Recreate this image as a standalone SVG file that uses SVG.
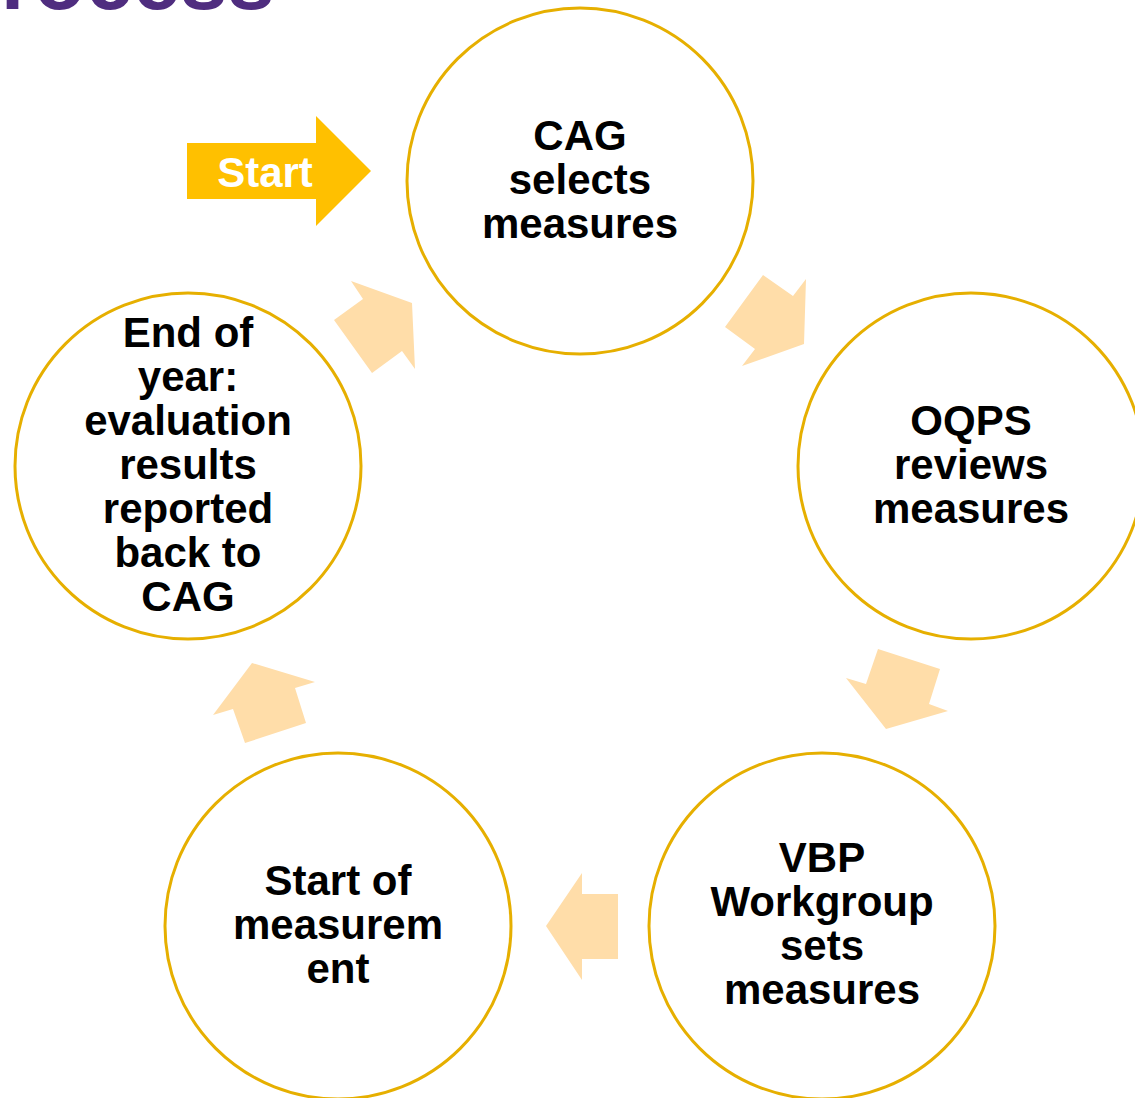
<svg xmlns="http://www.w3.org/2000/svg" width="1135" height="1098" viewBox="0 0 1135 1098">
<style>
.node circle{fill:#fff;stroke:#E6AF00;stroke-width:3}
.node text{font-family:"Liberation Sans",Arial,sans-serif;font-weight:bold;font-size:42px;fill:#000;text-anchor:middle}
.conn polygon{fill:#FFDDA9}
</style>
<rect width="1135" height="1098" fill="#fff"/>
<text x="-56" y="9" font-family="Liberation Sans, Arial, sans-serif" font-weight="bold" font-size="85" fill="#4F2D7F">Process</text>
<g id="start">
<polygon points="187,143 316,143 316,116 371,171 316,226 316,199 187,199" fill="#FFC000"/>
<text x="265" y="187" font-family="Liberation Sans, Arial, sans-serif" font-weight="bold" font-size="42" fill="#fff" text-anchor="middle">Start</text>
</g>
<g class="conn" id="connectors">
<polygon points="763,275 793,296 806,279 804,344 742,366 755,349 725,327"/>
<polygon points="878,649 940,669 929,704 948,711 886,729 846,678 866,684"/>
<polygon points="582,873 582,894 618,894 618,959 582,959 582,980 546,926"/>
<polygon points="252,663 315,682 295,688 306,723 245,743 233,709 213,715"/>
<polygon points="351,281 412,303 415,369 402,351 372,373 334,320 363,299"/>
</g>
<g class="node" id="n-cag">
<circle cx="580" cy="181" r="173"/>
<text x="580" y="150">CAG</text>
<text x="580" y="194">selects</text>
<text x="580" y="238">measures</text>
</g>
<g class="node" id="n-oqps">
<circle cx="971" cy="466" r="173"/>
<text x="971" y="435">OQPS</text>
<text x="971" y="479">reviews</text>
<text x="971" y="523">measures</text>
</g>
<g class="node" id="n-vbp">
<circle cx="822" cy="926" r="173"/>
<text x="822" y="872">VBP</text>
<text x="822" y="916">Workgroup</text>
<text x="822" y="960">sets</text>
<text x="822" y="1004">measures</text>
</g>
<g class="node" id="n-som">
<circle cx="338" cy="926" r="173"/>
<text x="338" y="895">Start of</text>
<text x="338" y="939">measurem</text>
<text x="338" y="983">ent</text>
</g>
<g class="node" id="n-eoy">
<circle cx="188" cy="466" r="173"/>
<text x="188" y="347">End of</text>
<text x="188" y="391">year:</text>
<text x="188" y="435">evaluation</text>
<text x="188" y="479">results</text>
<text x="188" y="523">reported</text>
<text x="188" y="567">back to</text>
<text x="188" y="611">CAG</text>
</g>
</svg>
